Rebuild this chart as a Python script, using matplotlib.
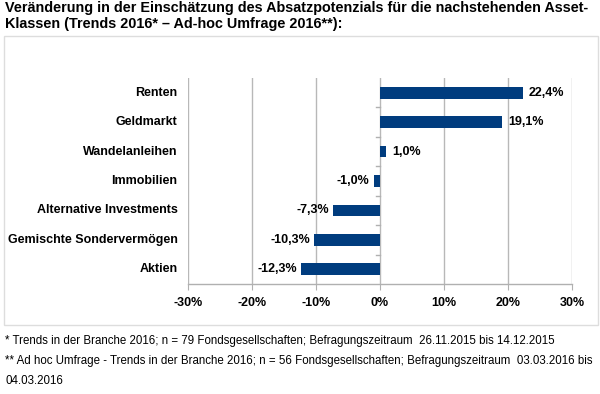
import matplotlib
matplotlib.use("Agg")
import matplotlib.pyplot as plt
from matplotlib.patches import Rectangle
import numpy as np

categories = ["Renten", "Geldmarkt", "Wandelanleihen", "Immobilien",
              "Alternative Investments", "Gemischte Sondervermögen", "Aktien"]
values = [22.4, 19.1, 1.0, -1.0, -7.3, -10.3, -12.3]
value_labels = ["22,4%", "19,1%", "1,0%", "-1,0%", "-7,3%", "-10,3%", "-12,3%"]
xticks = [-30, -20, -10, 0, 10, 20, 30]
xtick_labels = ["-30%", "-20%", "-10%", "0%", "10%", "20%", "30%"]

title = ("Veränderung in der Einschätzung des Absatzpotenzials für die nachstehenden Asset-\n"
         "Klassen (Trends 2016* – Ad-hoc Umfrage 2016**):")
foot1 = "* Trends in der Branche 2016; n = 79 Fondsgesellschaften; Befragungszeitraum  26.11.2015 bis 14.12.2015"
foot2 = "** Ad hoc Umfrage - Trends in der Branche 2016; n = 56 Fondsgesellschaften; Befragungszeitraum  03.03.2016 bis"
foot3 = "04.03.2016"

plt.rcParams['font.family'] = ['Liberation Sans', 'DejaVu Sans']

W, H = 600, 394
fig = plt.figure(figsize=(W / 100, H / 100), dpi=100)

# frame around chart
fig.add_artist(Rectangle((4 / W, 1 - 325 / H), 594 / W, (325 - 36) / H,
                         transform=fig.transFigure, fill=False,
                         edgecolor="#dddddd", linewidth=1.0))

ax = fig.add_axes([188 / W, 1 - 284 / H, (572 - 188) / W, (284 - 78) / H])
y = np.arange(len(categories))
bar_color = "#003C7E"
ax.barh(y, values, height=0.4, color=bar_color, zorder=3)

ax.set_xlim(-30, 30)
ax.set_ylim(len(categories) - 0.5, -0.5)
ax.set_xticks(xticks)
ax.set_xticklabels(xtick_labels, fontsize=9, fontweight="bold")
ax.tick_params(axis="x", length=4, color="#b0b0b0", pad=5)
ax.grid(axis="x", color="#b8b8b8", linewidth=1.0, zorder=0)

for s in ["top", "right", "left"]:
    ax.spines[s].set_visible(False)
ax.spines["bottom"].set_color("#b0b0b0")
ax.spines["bottom"].set_linewidth(1.0)

ax.set_yticks([])
for b in np.arange(0.5, len(categories) - 0.5, 1):
    ax.plot([-0.6, 0], [b, b], color="#b0b0b0", linewidth=1.0, zorder=2)

# category labels
for yi, cat in zip(y, categories):
    ax.annotate(cat, xy=(-30, yi), xytext=(-7.5, 0), textcoords="offset points",
                ha="right", va="center", fontsize=9, fontweight="bold",
                annotation_clip=False)

# value labels
for yi, v, lab in zip(y, values, value_labels):
    if v >= 0:
        ax.annotate(lab, xy=(v, yi), xytext=(4, 0), textcoords="offset points",
                    ha="left", va="center", fontsize=9, fontweight="bold", zorder=4)
    else:
        ax.annotate(lab, xy=(v, yi), xytext=(-3, 0), textcoords="offset points",
                    ha="right", va="center", fontsize=9, fontweight="bold", zorder=4)

fig.text(5 / W, 1 - 1 / H, title, ha="left", va="top", fontsize=10.4,
         fontweight="bold", linespacing=1.22)

fig.text(5 / W, 1 - 341 / H, foot1, ha="left", va="center", fontsize=8.3)
fig.text(5 / W, 1 - 361 / H, foot2, ha="left", va="center", fontsize=8.3)
fig.text(5 / W, 1 - 381 / H, foot3, ha="left", va="center", fontsize=8.3)

fig.savefig("out.png", dpi=100)
